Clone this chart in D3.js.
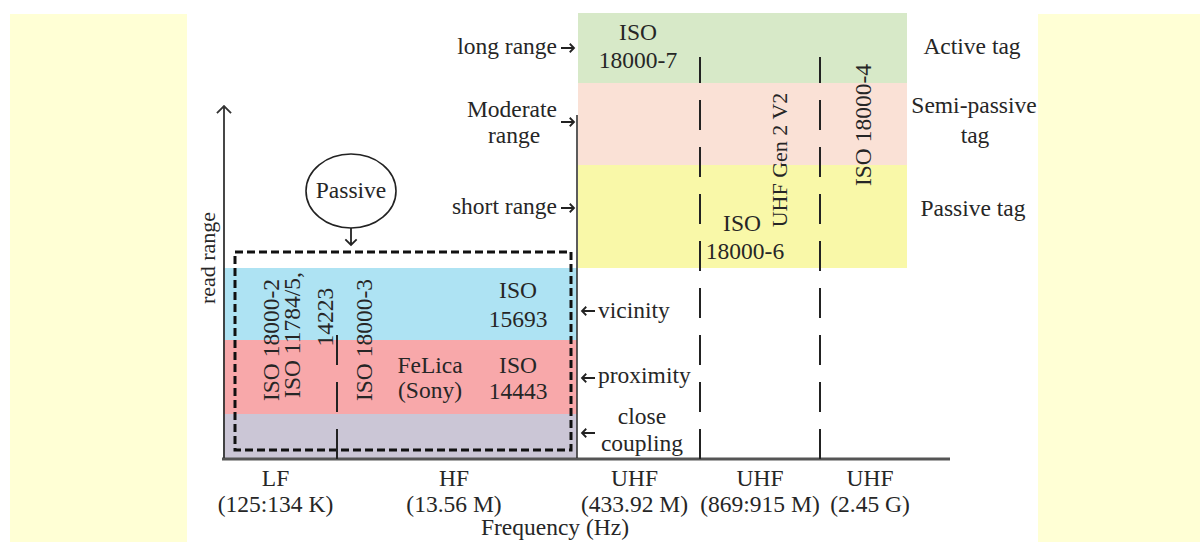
<!DOCTYPE html>
<html><head><meta charset="utf-8">
<script src="https://cdn.jsdelivr.net/npm/d3@7"></script>
<style>body{margin:0;background:#fff}svg{display:block}</style>
</head><body>
<script>
// ---- data ----
const bands = ["LF", "HF", "UHF", "UHF", "UHF"];
const bandFreqs = ["(125:134 K)", "(13.56 M)", "(433.92 M)", "(869:915 M)", "(2.45 G)"];
const nearLevels = ["close coupling", "proximity", "vicinity"];
const farLevels = ["short range", "Moderate range", "long range"];
const tagTypes = ["Passive tag", "Semi-passive tag", "Active tag"];
const lfStandards = ["ISO 18000-2", "ISO 11784/5,", "14223"];
const hfStandards = ["ISO 18000-3", "FeLica (Sony)", "ISO 14443", "ISO 15693"];
const uhfStandards = ["ISO 18000-7", "ISO 18000-6", "UHF Gen 2 V2", "ISO 18000-4"];
const axisTitles = ["Frequency (Hz)", "read range"];

// ---- styles ----
const FONT = "'Liberation Serif','Times New Roman',serif";
const FS = 23.5;
const TXT = "#262626";
const nearColors = ["#cbc6d6", "#f8a8aa", "#aee3f3"];
const farColors = ["#f9f8a8", "#fae1d6", "#d7e9c8"];

const W = 1200, H = 542;
const svg = d3.select("body").append("svg").attr("width", W).attr("height", H);

// scales: band edges (frequency) and range level edges
const x = d3.scaleLinear().domain([0, 1, 2, 3, 4, 5]).range([222, 337, 577, 700, 820, 920]);
const y = d3.scaleLinear().domain([0, 1, 2, 3, 4, 5, 6]).range([458, 414, 340, 268, 165, 83, 13]);

// side panels
svg.append("rect").attr("x", 10).attr("y", 14).attr("width", 177).attr("height", H - 14).attr("fill", "#ffffd5");
svg.append("rect").attr("x", 1038).attr("y", 14).attr("width", W - 1038).attr("height", H - 14).attr("fill", "#ffffd5");

// near-field bands (LF + HF)
svg.selectAll("rect.near").data(nearLevels).join("rect").attr("class", "near")
  .attr("x", x(0) + 1).attr("width", x(2) - x(0) - 1)
  .attr("y", (d, i) => y(i + 1)).attr("height", (d, i) => y(i) - y(i + 1))
  .attr("fill", (d, i) => nearColors[i]);

// far-field bands (UHF)
svg.selectAll("rect.far").data(farLevels).join("rect").attr("class", "far")
  .attr("x", x(2) + 1).attr("width", x(4.87) - x(2) - 1)
  .attr("y", (d, i) => y(i + 4)).attr("height", (d, i) => y(i + 3) - y(i + 4))
  .attr("fill", (d, i) => farColors[i]);

const g = svg.append("g").attr("font-family", FONT).attr("font-size", FS).attr("fill", TXT);

function txt(s, px, py, anchor = "middle", rot = 0, size = FS) {
  const t = g.append("text").attr("text-anchor", anchor).attr("font-size", size).text(s);
  if (rot) t.attr("transform", `translate(${px},${py}) rotate(${rot})`);
  else t.attr("x", px).attr("y", py);
  return t;
}
function arrow(x1, y1, x2, y2, s = 6, w = 1.8, col = "#222") {
  const a = Math.atan2(y2 - y1, x2 - x1);
  const p = d3.path();
  p.moveTo(x1, y1); p.lineTo(x2, y2);
  p.moveTo(x2 - s * Math.cos(a - Math.PI / 4), y2 - s * Math.sin(a - Math.PI / 4));
  p.lineTo(x2, y2);
  p.lineTo(x2 - s * Math.cos(a + Math.PI / 4), y2 - s * Math.sin(a + Math.PI / 4));
  svg.append("path").attr("d", p.toString()).attr("fill", "none").attr("stroke", col).attr("stroke-width", w);
}

// dashed "passive" box
svg.append("rect").attr("x", 235).attr("y", 252).attr("width", 336).attr("height", 198)
  .attr("fill", "none").attr("stroke", "#111").attr("stroke-width", 3).attr("stroke-dasharray", "8,4");

// axes
svg.append("line").attr("x1", x(0)).attr("x2", 950).attr("y1", y(0) + 1).attr("y2", y(0) + 1)
  .attr("stroke", "#555").attr("stroke-width", 3);
arrow(224, y(0), 224, 106, 10, 1.8, "#333");

// UHF boundary
svg.append("line").attr("x1", x(2)).attr("x2", x(2)).attr("y1", y(0)).attr("y2", 115)
  .attr("stroke", "#333").attr("stroke-width", 1.6);

// dashed separators
[1, 3, 4].forEach(b => {
  svg.append("line").attr("x1", x(b)).attr("x2", x(b)).attr("y1", y(0) + 1)
    .attr("y2", b === 1 ? 333 : 57)
    .attr("stroke", "#222").attr("stroke-width", 2).attr("stroke-dasharray", "30,17");
});

// band labels
bands.forEach((b, i) => {
  const cx = (x(i) + x(i + 1)) / 2 - (i === 0 ? 4 : 0) - (i === 1 ? 3 : 0) - (i === 2 ? 4 : 0);
  txt(b, cx, 486);
  txt(bandFreqs[i], cx, 512);
});
txt(axisTitles[0], 555, 535);
txt(axisTitles[1], 215, 258, "middle", -90, 22);

// left range labels (far field)
txt("long range", 557, 54, "end");
arrow(561, 48, 574, 48);
txt("Moderate", 557, 117, "end");
txt("range", 514, 143, "middle");
arrow(561, 122, 574, 122);
txt("short range", 557, 214, "end");
arrow(561, 208, 574, 208);

// near field labels (right of UHF line)
arrow(595, 311, 582, 311);
txt("vicinity", 598, 318, "start");
arrow(595, 378, 582, 378);
txt("proximity", 598, 383, "start");
txt("close", 642, 424);
txt("coupling", 642, 451);
arrow(595, 433, 582, 433);

// tag types
txt("Active tag", 972, 54);
txt("Semi-passive", 974, 113);
txt("tag", 975, 143);
txt(tagTypes[0], 973, 216);

// passive bubble
svg.append("ellipse").attr("cx", 351).attr("cy", 191).attr("rx", 45).attr("ry", 37)
  .attr("fill", "none").attr("stroke", "#222").attr("stroke-width", 1.6);
txt("Passive", 351, 198);
arrow(351, 228, 351, 245, 8);

// LF standards (rotated)
txt(lfStandards[0], 279, 340, "middle", -90);
txt(lfStandards[1], 300, 335, "middle", -90);
txt(lfStandards[2], 333, 317, "middle", -90);
// HF standards
txt(hfStandards[0], 372, 340, "middle", -90);
txt("FeLica", 430, 373);
txt("(Sony)", 430, 398);
txt("ISO", 518, 373);
txt("14443", 518, 399);
txt("ISO", 518, 298);
txt("15693", 518, 327);
// UHF standards
txt("ISO", 638, 40);
txt("18000-7", 638, 68);
txt("ISO", 742, 231);
txt("18000-6", 745, 259);
txt(uhfStandards[2], 787, 160, "middle", -90, 22);
txt(uhfStandards[3], 871, 125, "middle", -90);
</script>
</body></html>
